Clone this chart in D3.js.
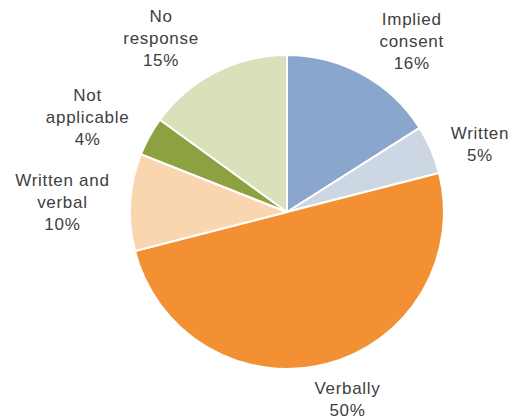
<!DOCTYPE html>
<html>
<head>
<meta charset="utf-8">
<script src="https://cdn.jsdelivr.net/npm/d3@7"></script>
<style>
  body { margin: 0; background: #fff; }
  text { font-family: "Liberation Sans", Arial, sans-serif; }
</style>
</head>
<body>
<div id="pie_chart"></div>
<script>
// data, clockwise from 12 o'clock
var categories = ["Implied consent", "Written", "Verbally", "Written and verbal", "Not applicable", "No response"];
var values = [16, 5, 50, 10, 4, 15];
// how each label wraps
var labelLines = [["Implied", "consent"], ["Written"], ["Verbally"], ["Written and", "verbal"], ["Not", "applicable"], ["No", "response"]];
var colours = ["#8aa6cc", "#cdd7e4", "#f39033", "#f9d6b0", "#8da140", "#d8e1b9"];
// small label nudges (px) to match placement
var labelNudge = [[25, 10], [3, 14], [9, -13], [-18, 3], [-18, 5], [-32, 10]];

var width = 511, height = 418;
var cx = 287, cy = 212, radius = 157;
var lineH = 22, capH = 12;

var data = categories.map(function(c, i) { return {name: c, value: values[i], i: i}; });

var svg = d3.select("#pie_chart")
  .append("svg")
    .attr("width", width)
    .attr("height", height)
  .append("g")
    .attr("transform", "translate(" + cx + "," + cy + ")");

var pie = d3.pie()
  .sort(null)
  .value(d => d.value);

var arc = d3.arc()
  .innerRadius(0)
  .outerRadius(radius);

var labelArc = d3.arc()
  .innerRadius(radius + 50)
  .outerRadius(radius + 50);

var arcs = pie(data);

svg.selectAll("path")
  .data(arcs)
  .enter()
  .append("path")
    .attr("d", arc)
    .style("fill", d => colours[d.data.i])
    .style("stroke", "#fff")
    .style("stroke-width", 2)
    .style("stroke-linejoin", "round");

var labels = svg.selectAll(".lbl")
  .data(arcs)
  .enter()
  .append("text")
    .attr("class", "lbl")
    .attr("text-anchor", "middle")
    .style("font-size", "17px")
    .style("letter-spacing", "0.7px")
    .style("fill", "#404040")
    .each(function(d) {
      var c = labelArc.centroid(d);
      var nudge = labelNudge[d.data.i];
      var x = c[0] + nudge[0], y = c[1] + nudge[1];
      var lines = labelLines[d.data.i].concat([d.data.value + "%"]);
      var y0 = y + capH / 2 - (lines.length - 1) * lineH / 2;
      var t = d3.select(this);
      lines.forEach(function(s, k) {
        t.append("tspan")
          .attr("x", x)
          .attr("y", y0 + k * lineH)
          .text(s);
      });
    });
</script>
</body>
</html>
